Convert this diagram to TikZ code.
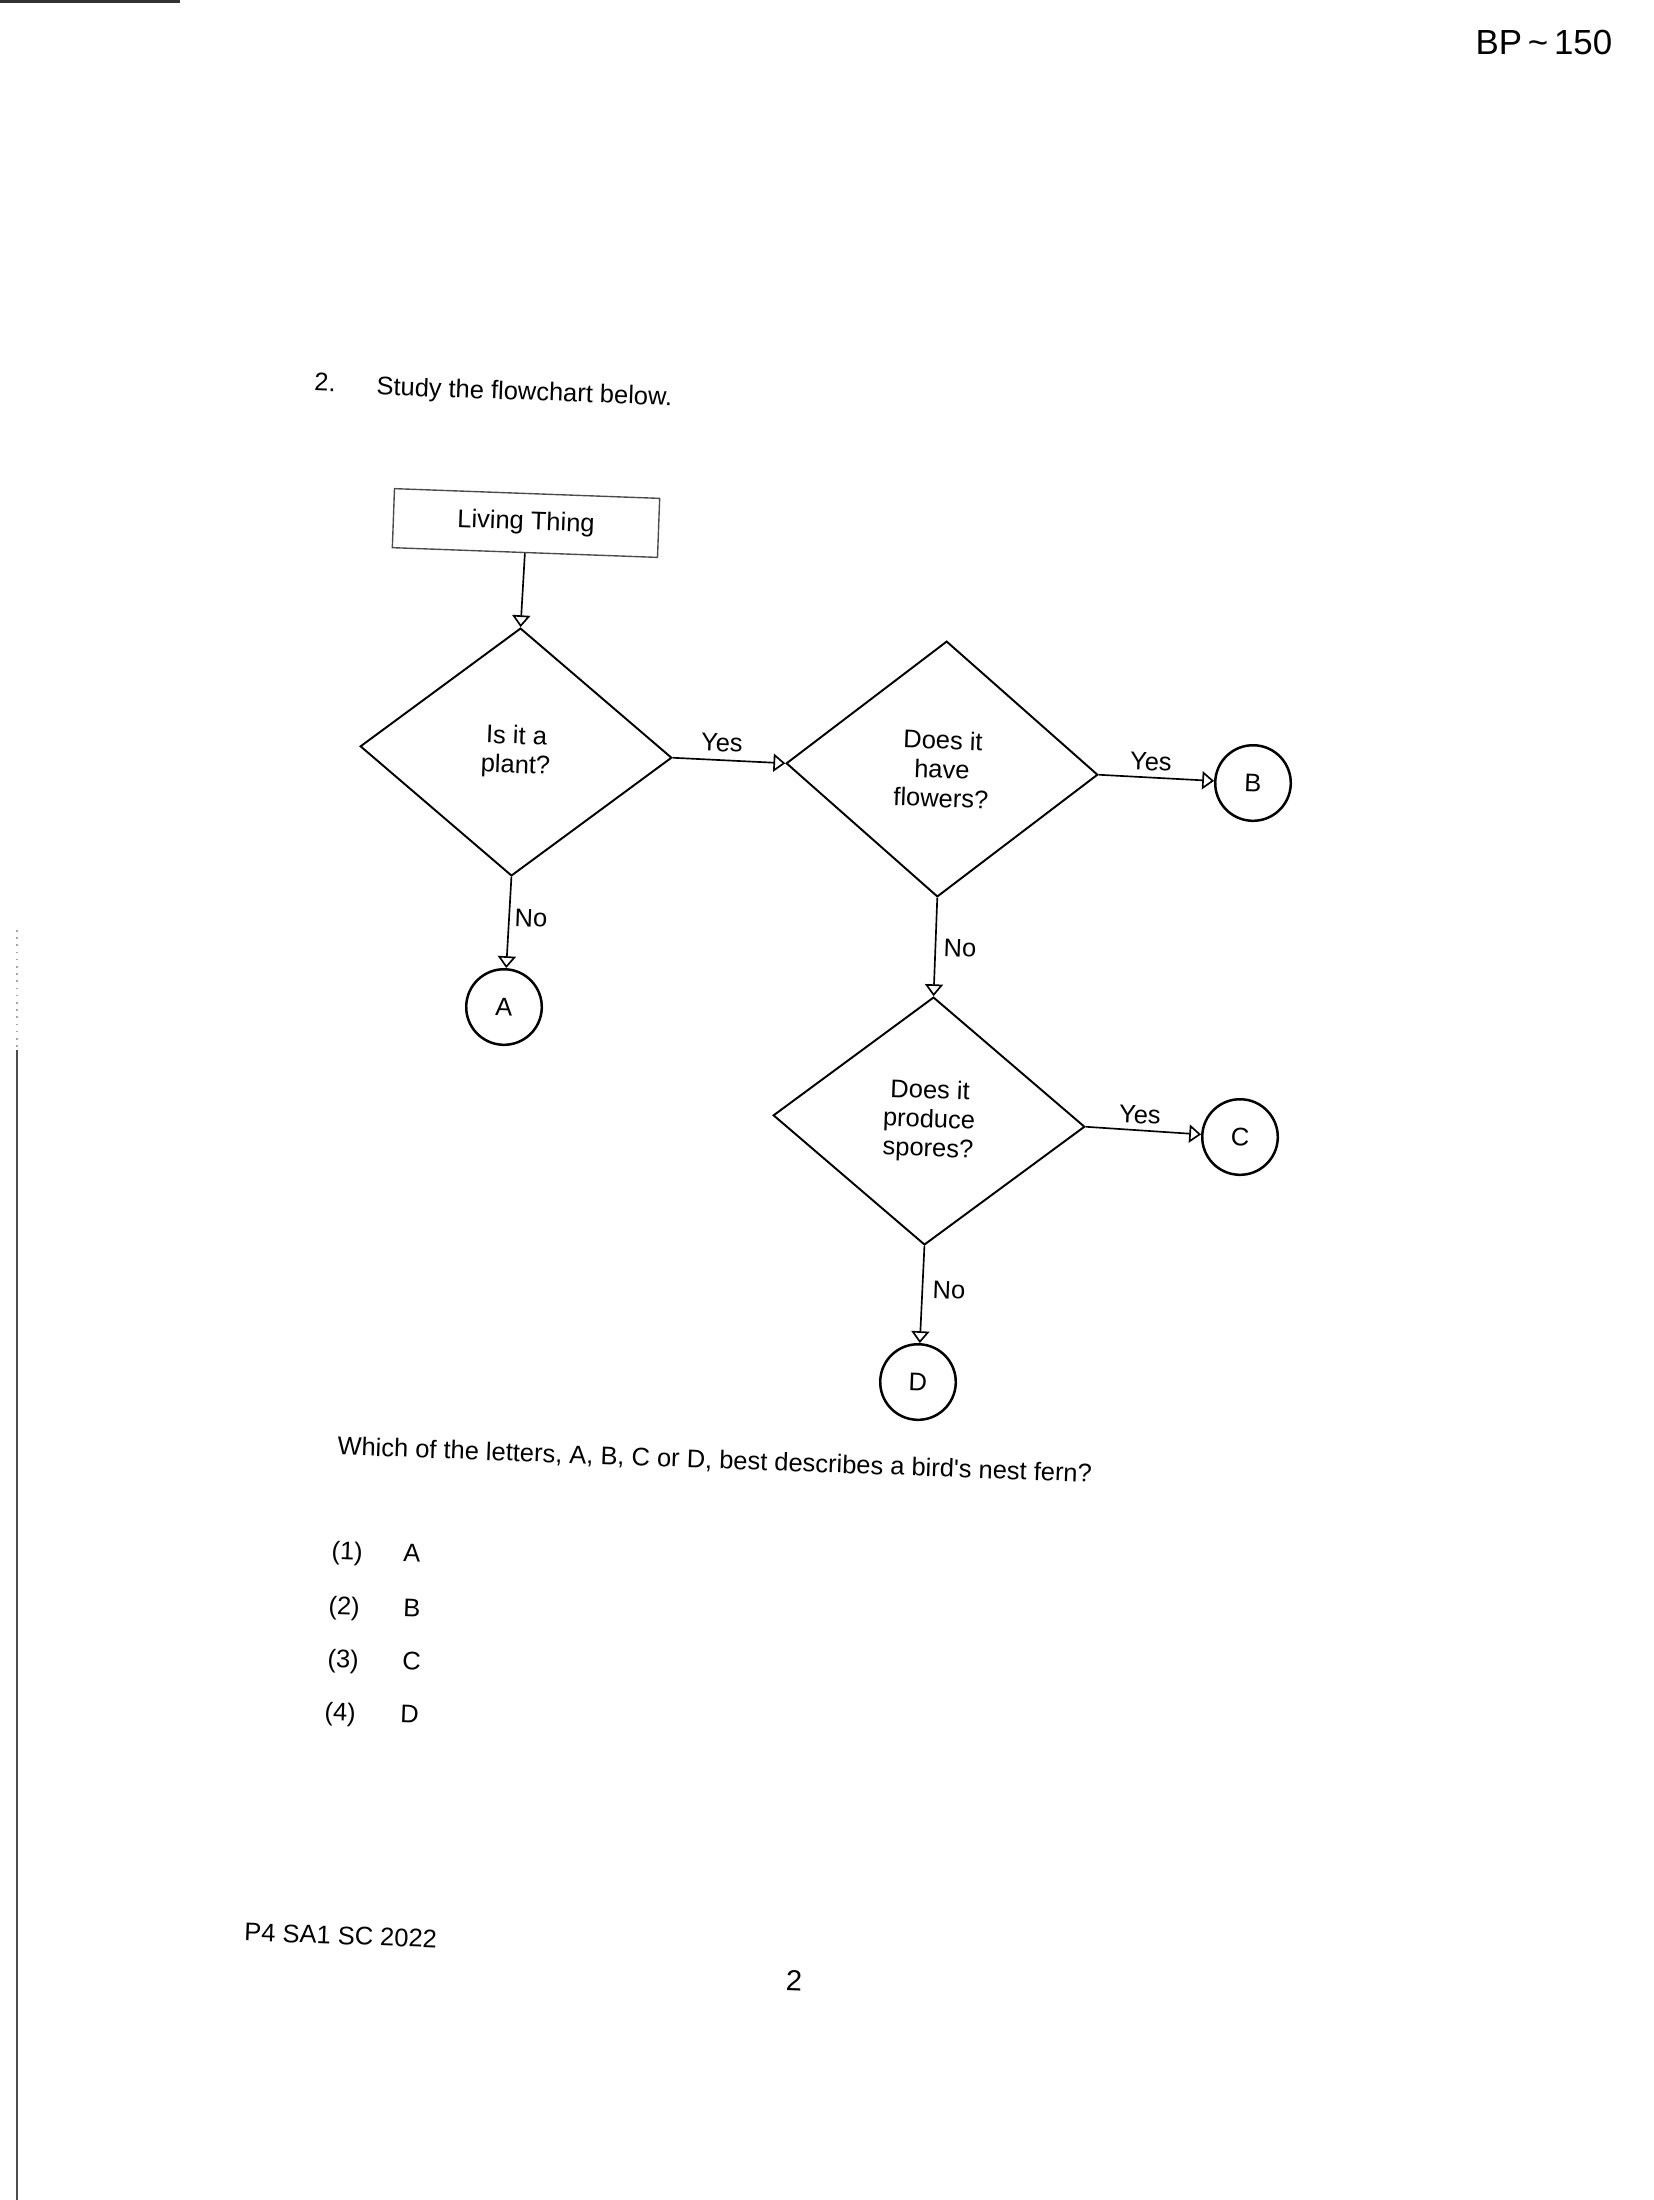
\documentclass[tikz,border=0pt]{standalone}
\usepackage{fontspec}
\setmainfont{Liberation Sans}
\usetikzlibrary{shapes.geometric, arrows.meta}
\begin{document}
\begin{tikzpicture}[x=0.127mm, y=-0.127mm,
  every node/.style={font=\fontsize{9.2}{10.5}\selectfont, text=black},
  dec/.style={diamond, draw, line width=0.7pt, inner sep=0pt, align=center,
    rotate=-2.1, minimum width=39.6mm, minimum height=31.5mm},
  term/.style={circle, draw, line width=0.9pt, minimum size=9.6mm, inner sep=0pt, rotate=-2.1},
  startbox/.style={rectangle, draw=black!70, line width=0.5pt, minimum width=33.7mm,
    minimum height=7.5mm, inner sep=0pt, rotate=-2.1},
  flow/.style={draw, line width=0.6pt, -{Triangle[open, length=1.5mm, width=2.3mm]}},
  txt/.style={anchor=west, inner sep=0pt, rotate=-2.1},
  lbl/.style={inner sep=0pt, rotate=-2.1}
]
\useasboundingbox (0,0) rectangle (1654,2200);

% scan artefacts
\draw[black!80, line width=1.2pt] (0,1) -- (180,1);
\draw[black!35, line width=0.6pt, dotted] (17,930) -- (17,1050);
\draw[black!70, line width=0.7pt] (17,1050) -- (17,2200);

% header / question
\node[anchor=west, inner sep=0pt, font=\fontsize{12.6}{14}\selectfont] (code) at (1475,42) {BP\,\textasciitilde\,150};
\node[txt] (qnum) at (314,382) {2.};
\node[txt] (qstem) at (376,388) {Study the flowchart below.};

% flowchart
\node[startbox] (lt) at (526,523) {Living Thing};
\node[dec] (d1) at (516,752) {Is it a\\plant?};
\node[dec, minimum height=32.5mm] (d2) at (942,769) {Does it\\have\\flowers?};
\node[dec] (d3) at (929,1121) {Does it\\produce\\spores?};
\node[term] (A) at (504,1007) {A};
\node[term] (B) at (1253,783) {B};
\node[term] (C) at (1240,1137) {C};
\node[term] (D) at (918,1382) {D};

\draw[flow] (lt.south) -- (d1.north);
\draw[flow] (d1.east) -- (d2.west);
\draw[flow] (d2.east) -- (B);
\draw[flow] (d1.south) -- (A);
\draw[flow] (d2.south) -- (d3.north);
\draw[flow] (d3.east) -- (C);
\draw[flow] (d3.south) -- (D);

\node[lbl] (y1) at (722,743) {Yes};
\node[lbl] (y2) at (1151,762) {Yes};
\node[lbl] (y3) at (1140,1115) {Yes};
\node[lbl] (n1) at (531,918) {No};
\node[lbl] (n2) at (960,948) {No};
\node[lbl] (n3) at (949,1290) {No};

% question text and options
\node[txt] (question) at (337,1447) {Which of the letters, A, B, C or D, best describes a bird\textquotesingle s nest fern?};
\node[txt] (o1n) at (331,1553) {(1)}; \node[txt] (o1l) at (403,1553) {A};
\node[txt] (o2n) at (328,1608) {(2)}; \node[txt] (o2l) at (403,1608) {B};
\node[txt] (o3n) at (327,1661) {(3)}; \node[txt] (o3l) at (402,1661) {C};
\node[txt] (o4n) at (324,1714) {(4)}; \node[txt] (o4l) at (400,1714) {D};

% footer
\node[txt] (foot) at (244,1932) {P4 SA1 SC 2022};
\node[lbl, font=\fontsize{10.5}{12}\selectfont] (pg) at (794,1981) {2};
\end{tikzpicture}
\end{document}
